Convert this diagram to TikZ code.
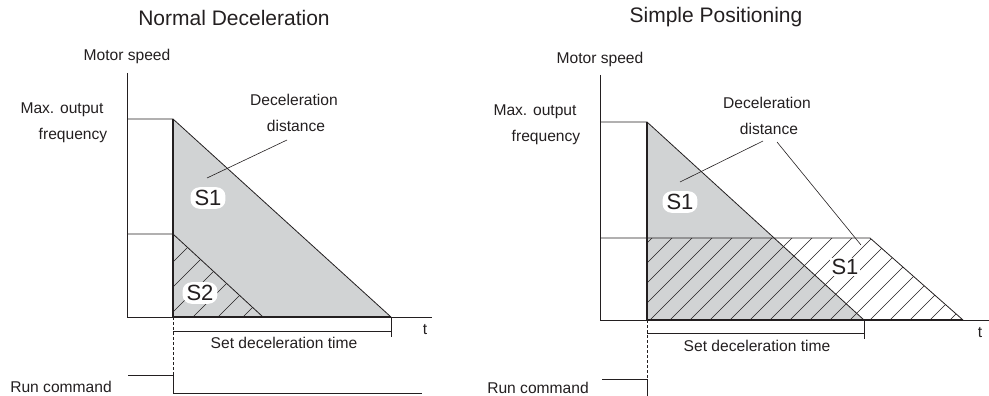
\documentclass[tikz,border=0pt]{standalone}
\usepackage{fontspec}
\setmainfont{Liberation Sans}
\definecolor{ink}{HTML}{231F20}
\definecolor{fillg}{HTML}{D1D3D4}
\begin{document}
\begin{tikzpicture}[x=1pt,y=-1pt,
  lbl/.style={font=\fontsize{15.6}{17}\selectfont, text=ink, inner sep=0pt},
  ttl/.style={font=\fontsize{21}{22}\selectfont, text=ink, inner sep=0pt},
  blob/.style={font=\fontsize{22}{24}\selectfont, text=ink, fill=white, rounded corners=9pt, inner xsep=4pt, inner ysep=3pt},
  ln/.style={draw=ink, line width=0.8pt},
  heavy/.style={draw=ink, line width=1.3pt},
  hatch/.style={draw=ink, line width=0.6pt},
  leader/.style={draw=ink, line width=0.6pt},
  dsh/.style={draw=ink, line width=0.8pt, dash pattern=on 3pt off 2pt}]
\useasboundingbox (0,0) rectangle (989,396);

% ================= LEFT PANEL =================
\coordinate (LA0) at (127,73);
\coordinate (LO) at (127,317);
\coordinate (LAx) at (432,317);
\coordinate (LM0) at (127,119);
\coordinate (LM1) at (173,119);
\coordinate (LB) at (173,317);
\coordinate (LE) at (391,317);
\coordinate (LL0) at (127,234);
\coordinate (LL1) at (173,234);
\coordinate (LS2) at (263,317);
\coordinate (LBr0) at (173,331);
\coordinate (LBr1) at (391,331);
\coordinate (LT1) at (391,337);
\coordinate (LR0) at (128,375);
\coordinate (LR1) at (173,375);
\coordinate (LR2) at (173,393);
\coordinate (LR3) at (422,393);
\coordinate (LD0) at (287,140);
\coordinate (LD1) at (207,178);

\fill[fillg] (LM1) -- (LE) -- (LB) -- cycle;
\begin{scope}
  \clip (LL1) -- (LS2) -- (LB) -- cycle;
  \foreach \c in {410,435,...,610} \draw[hatch] (\c-330,330) -- (\c-220,220);
\end{scope}
\draw[ln] (LA0) -- (LO) -- (LAx);
\draw[ln] (LM0) -- (LM1) -- (LE);
\draw[ln] (LL0) -- (LL1) -- (LS2);
\draw[heavy] (LM1) -- (LB) -- (LE);
\draw[ln] (LBr0) -- (LBr1);
\draw[ln] (LE) -- (LT1);
\draw[dsh] (LB) -- (LR1);
\draw[ln] (LR0) -- (LR1) -- (LR2) -- (LR3);
\draw[leader] (LD0) -- (LD1);

\node[ttl] (ltitle) at (234,18) {Normal Deceleration};
\node[lbl] (lmotor) at (127,56) {Motor speed};
\node[lbl] (lmax) at (62,110) {Max. output};
\node[lbl] (lfreq) at (73,135) {frequency};
\node[lbl] (ldec) at (294,100) {Deceleration};
\node[lbl] (ldist) at (296,126) {distance};
\node[blob] (ls1) at (208,198) {S1};
\node[blob] (ls2) at (200,293) {S2};
\node[lbl] (lset) at (284,343) {Set deceleration time};
\node[lbl] (lt) at (425,330) {t};
\node[lbl] (lrun) at (61,387) {Run command};

% ================= RIGHT PANEL =================
\coordinate (RA0) at (600,75);
\coordinate (RO) at (600,320);
\coordinate (RAx) at (989,320);
\coordinate (RM0) at (600,122);
\coordinate (RM1) at (647,122);
\coordinate (RB) at (647,320);
\coordinate (RE) at (864,320);
\coordinate (RL0) at (600,238);
\coordinate (RL1) at (647,238);
\coordinate (RL2) at (870,238);
\coordinate (RL3) at (963,320);
\coordinate (RBr0) at (647,333);
\coordinate (RBr1) at (864,333);
\coordinate (RT1) at (864,339);
\coordinate (RR0) at (602,379);
\coordinate (RR1) at (647,379);
\coordinate (RR2) at (647,396);
\coordinate (RD0) at (763,141);
\coordinate (RD1) at (680,182);
\coordinate (RD2) at (777,142);
\coordinate (RD3) at (861,245);

\fill[fillg] (RM1) -- (RE) -- (RB) -- cycle;
\begin{scope}
  \clip (RL1) -- (RL2) -- (RL3) -- (RB) -- cycle;
  \foreach \c in {870,890,...,1290} \draw[hatch] (\c-330,330) -- (\c-230,230);
\end{scope}
\draw[ln] (RA0) -- (RO) -- (RAx);
\draw[ln] (RM0) -- (RM1) -- (RE);
\draw[ln] (RL0) -- (RL1) -- (RL2) -- (RL3);
\draw[heavy] (RM1) -- (RB) -- (RL3);
\draw[ln] (RBr0) -- (RBr1);
\draw[ln] (RE) -- (RT1);
\draw[dsh] (RB) -- (RR1);
\draw[ln] (RR0) -- (RR1) -- (RR2);
\draw[leader] (RD0) -- (RD1);
\draw[leader] (RD2) -- (RD3);

\node[ttl] (rtitle) at (716,17) {Simple Positioning};
\node[lbl] (rmotor) at (600,59) {Motor speed};
\node[lbl] (rmax) at (535,112) {Max. output};
\node[lbl] (rfreq) at (546,137) {frequency};
\node[lbl] (rdec) at (767,103) {Deceleration};
\node[lbl] (rdist) at (769,129) {distance};
\node[blob] (rs1a) at (680,202) {S1};
\node[blob, rounded corners=0pt, inner xsep=2pt, inner ysep=1pt] (rs1b) at (845,267) {S1};
\node[lbl] (rset) at (757,346) {Set deceleration time};
\node[lbl] (rt) at (980,333) {t};
\node[lbl] (rrun) at (538,388) {Run command};
\end{tikzpicture}
\end{document}
